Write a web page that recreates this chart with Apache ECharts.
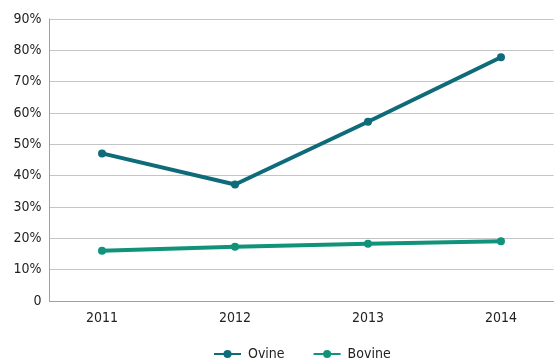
<!DOCTYPE html>
<html><head><meta charset="utf-8">
<script src="https://cdn.jsdelivr.net/npm/echarts@6/dist/echarts.min.js"></script>
<style>html,body{margin:0;padding:0;background:#fff}#c{width:555px;height:360px}</style>
</head><body><div id="c"></div>
<script>
const categories = [2011, 2012, 2013, 2014];
const ovine = [47.1, 37.2, 57.2, 77.8];
const bovine = [16.0, 17.3, 18.3, 19.1];
const yTicks = [0, 10, 20, 30, 40, 50, 60, 70, 80, 90];

const FONT = '"Liberation Sans Narrow", "DejaVu Sans Condensed", "Roboto", sans-serif';
const chart = echarts.init(document.getElementById('c'), null, {renderer: 'canvas'});
chart.setOption({
  animation: false,
  textStyle: {fontFamily: FONT},
  grid: {left: 49.5, right: 1.5, top: 19, bottom: 59, containLabel: false},
  xAxis: {
    type: 'value', min: 2010.605, max: 2014.395,
    axisLine: {show: true, lineStyle: {color: '#a0a0a0', width: 1}},
    axisTick: {show: false},
    splitLine: {show: false},
    axisLabel: {customValues: categories, formatter: v => String(v), color: '#222', fontSize: 14, fontFamily: FONT, margin: 10}
  },
  yAxis: {
    type: 'value', min: yTicks[0], max: yTicks[yTicks.length - 1], interval: 10,
    axisLine: {show: true, lineStyle: {color: '#a0a0a0', width: 1}},
    axisTick: {show: false},
    splitLine: {show: true, lineStyle: {color: '#c4c4c4', width: 1}},
    axisLabel: {formatter: v => v === 0 ? '0' : v + '%', color: '#222', fontSize: 14, fontFamily: FONT, margin: 8}
  },
  legend: {
    top: 342, left: 208, itemWidth: 27, itemHeight: 10, itemGap: 28,
    textStyle: {color: '#222', fontSize: 14, fontFamily: FONT, padding: [0, 0, 0, 2]},
    data: ['Ovine', 'Bovine']
  },
  series: [
    {name: 'Ovine', type: 'line', data: categories.map((c, i) => [c, ovine[i]]),
     symbol: 'circle', symbolSize: 8, lineStyle: {width: 4, color: '#0d6b7a'}, itemStyle: {color: '#0d6b7a'}},
    {name: 'Bovine', type: 'line', data: categories.map((c, i) => [c, bovine[i]]),
     symbol: 'circle', symbolSize: 8, lineStyle: {width: 4, color: '#10937a'}, itemStyle: {color: '#10937a'}}
  ]
});
</script></body></html>
